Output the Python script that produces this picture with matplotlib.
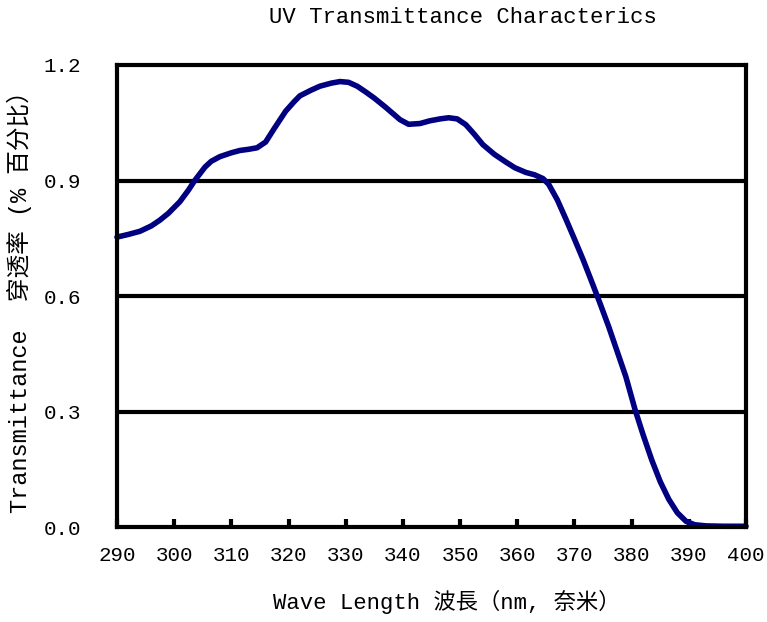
import matplotlib
matplotlib.use("Agg")
import matplotlib.pyplot as plt

plt.rcParams["font.family"] = ["Liberation Mono", "Noto Sans CJK SC", "DejaVu Sans"]

# values
wavelength = [290, 292, 294, 296, 297.5, 299, 301, 302.5, 303.6, 305.4, 306.5, 308,
              310, 311.5, 313, 314.5, 316, 317.5, 319.5, 321, 322, 324, 325.5, 327.5,
              329, 330.5, 332, 333.5, 335, 337, 339.5, 341, 343, 344.7, 346.5, 348,
              349.5, 351, 352.5, 354, 356, 358, 359.6, 361.5, 363, 364.5, 365.5, 367,
              368.5, 370, 371.5, 373, 374.5, 376, 377.5, 379, 380.6, 382, 383.5, 385,
              386.5, 388, 389.5, 391, 393, 396, 400]
transmittance = [0.753, 0.760, 0.768, 0.782, 0.797, 0.815, 0.845, 0.875, 0.900, 0.935,
                 0.950, 0.962, 0.972, 0.978, 0.981, 0.985, 1.000, 1.035, 1.080, 1.105,
                 1.120, 1.135, 1.145, 1.153, 1.157, 1.155, 1.145, 1.130, 1.114, 1.090,
                 1.058, 1.046, 1.048, 1.055, 1.060, 1.063, 1.060, 1.045, 1.020, 0.993,
                 0.968, 0.948, 0.933, 0.921, 0.915, 0.905, 0.890, 0.850, 0.800, 0.748,
                 0.695, 0.638, 0.580, 0.520, 0.455, 0.390, 0.305, 0.240, 0.175, 0.118,
                 0.072, 0.037, 0.015, 0.006, 0.003, 0.002, 0.002]

x_ticks = list(range(290, 401, 10))
y_ticks = [0.0, 0.3, 0.6, 0.9, 1.2]
y_tick_labels = ["0.0", "0.3", "0.6", "0.9", "1.2"]

fig = plt.figure(figsize=(7.67, 6.22), dpi=100)
ax = fig.add_axes([0.1525, 0.1527, 0.8201, 0.7428])

for y in y_ticks[1:-1]:
    ax.axhline(y, color="black", lw=3, zorder=1)

ax.plot(wavelength, transmittance, color="#000080", lw=4, zorder=3,
        solid_capstyle="round", clip_on=False)

ax.set_xlim(290, 400)
ax.set_ylim(0, 1.2)
ax.set_xticks(x_ticks)
ax.set_yticks(y_ticks)
ax.set_yticklabels(y_tick_labels)
ax.tick_params(axis="x", direction="in", length=6, width=3, pad=14, labelsize=15)
ax.tick_params(axis="y", length=0, pad=26, labelsize=15)
for sp in ax.spines.values():
    sp.set_linewidth(3)
    sp.set_zorder(4)

ax.set_title("UV Transmittance Characterics", fontsize=16, x=0.55, pad=30)
ax.set_xlabel("Wave Length 波長（nm, 奈米）", fontsize=16, labelpad=18, x=0.525)
ax.set_ylabel("Transmittance  穿透率 (% 百分比）", fontsize=17, labelpad=8)

fig.savefig("out.png", dpi=100)
